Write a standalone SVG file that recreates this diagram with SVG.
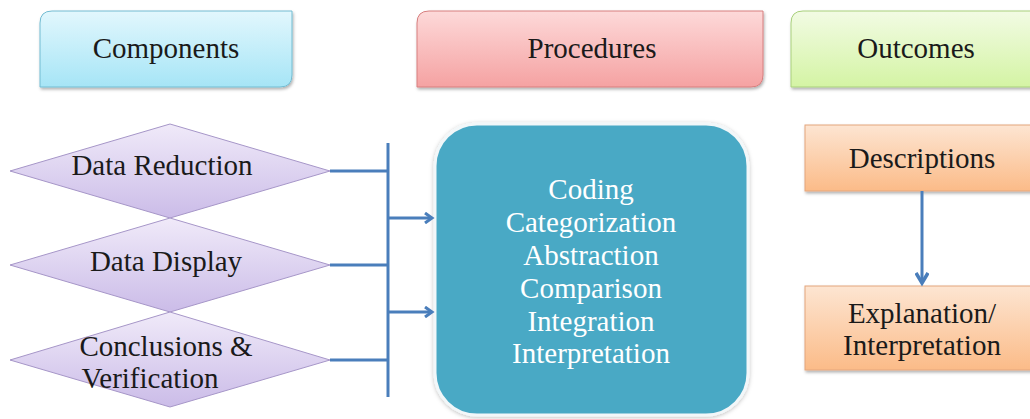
<svg xmlns="http://www.w3.org/2000/svg" width="1030" height="419" viewBox="0 0 1030 419">
<defs>
<linearGradient id="gBlue" x1="0" y1="0" x2="0" y2="1"><stop offset="0" stop-color="#e2f7fd"/><stop offset="1" stop-color="#a6e5f6"/></linearGradient>
<linearGradient id="gRed" x1="0" y1="0" x2="0" y2="1"><stop offset="0" stop-color="#fdd9d9"/><stop offset="1" stop-color="#f5a2a2"/></linearGradient>
<linearGradient id="gGreen" x1="0" y1="0" x2="0" y2="1"><stop offset="0" stop-color="#f2fbe4"/><stop offset="1" stop-color="#d4f4a4"/></linearGradient>
<linearGradient id="gPurple" x1="0" y1="0" x2="0" y2="1"><stop offset="0" stop-color="#f0eaf9"/><stop offset="1" stop-color="#cbbce8"/></linearGradient>
<linearGradient id="gOrange" x1="0" y1="0" x2="0" y2="1"><stop offset="0" stop-color="#fde5d2"/><stop offset="1" stop-color="#fbbb88"/></linearGradient>
<filter id="sh" x="-10%" y="-10%" width="120%" height="130%"><feDropShadow dx="1" dy="2" stdDeviation="1.5" flood-color="#000" flood-opacity="0.3"/></filter>
<filter id="glow" x="-10%" y="-10%" width="120%" height="120%"><feDropShadow dx="0" dy="1" stdDeviation="2" flood-color="#000" flood-opacity="0.25"/></filter>
<marker id="arr" markerWidth="12" markerHeight="12" refX="9" refY="6" orient="auto" markerUnits="userSpaceOnUse"><path d="M2,1 L9,6 L2,11" fill="none" stroke="#4a7ebb" stroke-width="3"/></marker>
<marker id="arrBig" markerWidth="16" markerHeight="14" refX="12" refY="7" orient="auto" markerUnits="userSpaceOnUse"><path d="M2,1 L12,7 L2,13" fill="none" stroke="#4a7ebb" stroke-width="3.5"/></marker>
</defs>
<style>
text{font-family:"Liberation Serif","DejaVu Serif","Times New Roman",serif;font-size:29px;text-anchor:middle}
.t{fill:#1a1a1a}
.w{fill:#ffffff}
.c{fill:none;stroke:#4a7ebb;stroke-width:3}
</style>
<rect width="1030" height="419" fill="#ffffff"/>
<g id="components">
<path d="M52,11 H292 V75 Q292,87 280,87 H40 V23 Q40,11 52,11 Z" fill="url(#gBlue)" stroke="#73bcd2" stroke-width="1" filter="url(#sh)"/>
<text class="t" x="166" y="58">Components</text>
</g>
<g id="procedures">
<path d="M429,11 H763 V75 Q763,87 751,87 H417 V23 Q417,11 429,11 Z" fill="url(#gRed)" stroke="#d77f7f" stroke-width="1" filter="url(#sh)"/>
<text class="t" x="592" y="58">Procedures</text>
</g>
<g id="outcomes">
<path d="M803,11 H1040 V87 H791 V23 Q791,11 803,11 Z" fill="url(#gGreen)" stroke="#a9d07c" stroke-width="1" filter="url(#sh)"/>
<text class="t" x="916" y="58">Outcomes</text>
</g>
<g id="data-reduction">
<polygon points="10,171 170,124 330,171 170,218" fill="url(#gPurple)" stroke="#a696c8" stroke-width="1"/>
<text class="t" x="162" y="175">Data Reduction</text>
</g>
<g id="data-display">
<polygon points="10,265 170,218 330,265 170,312" fill="url(#gPurple)" stroke="#a696c8" stroke-width="1"/>
<text class="t" x="166" y="271">Data Display</text>
</g>
<g id="conclusions">
<polygon points="10,360 170,312 330,360 170,407" fill="url(#gPurple)" stroke="#a696c8" stroke-width="1"/>
<text class="t" x="166" y="356">Conclusions &amp;</text>
<text class="t" x="150" y="388">Verification</text>
</g>
<g id="procedures-box">
<rect x="435" y="124" width="313" height="291" rx="42" fill="#4aa9c5" stroke="#f2f7f9" stroke-width="3" filter="url(#glow)"/>
<text class="w" x="591" y="199">Coding</text>
<text class="w" x="591" y="232">Categorization</text>
<text class="w" x="591" y="265">Abstraction</text>
<text class="w" x="591" y="298">Comparison</text>
<text class="w" x="591" y="331">Integration</text>
<text class="w" x="591" y="363">Interpretation</text>
</g>
<g id="descriptions">
<rect x="805" y="125" width="240" height="66" fill="url(#gOrange)" stroke="#e4a67c" stroke-width="1" filter="url(#sh)"/>
<text class="t" x="922" y="168">Descriptions</text>
</g>
<g id="explanation">
<rect x="805" y="286" width="240" height="84" fill="url(#gOrange)" stroke="#e4a67c" stroke-width="1" filter="url(#sh)"/>
<text class="t" x="922" y="323">Explanation/</text>
<text class="t" x="922" y="355">Interpretation</text>
</g>
<g id="connectors">
<line class="c" x1="330" y1="171" x2="388" y2="171"/>
<line class="c" x1="330" y1="265" x2="388" y2="265"/>
<line class="c" x1="330" y1="360" x2="388" y2="360"/>
<line class="c" x1="388" y1="143" x2="388" y2="397"/>
<line class="c" x1="388" y1="218" x2="432" y2="218" marker-end="url(#arr)"/>
<line class="c" x1="388" y1="312" x2="432" y2="312" marker-end="url(#arr)"/>
<line class="c" x1="922" y1="191" x2="922" y2="283" stroke-width="3.5" marker-end="url(#arrBig)"/>
</g>
</svg>
